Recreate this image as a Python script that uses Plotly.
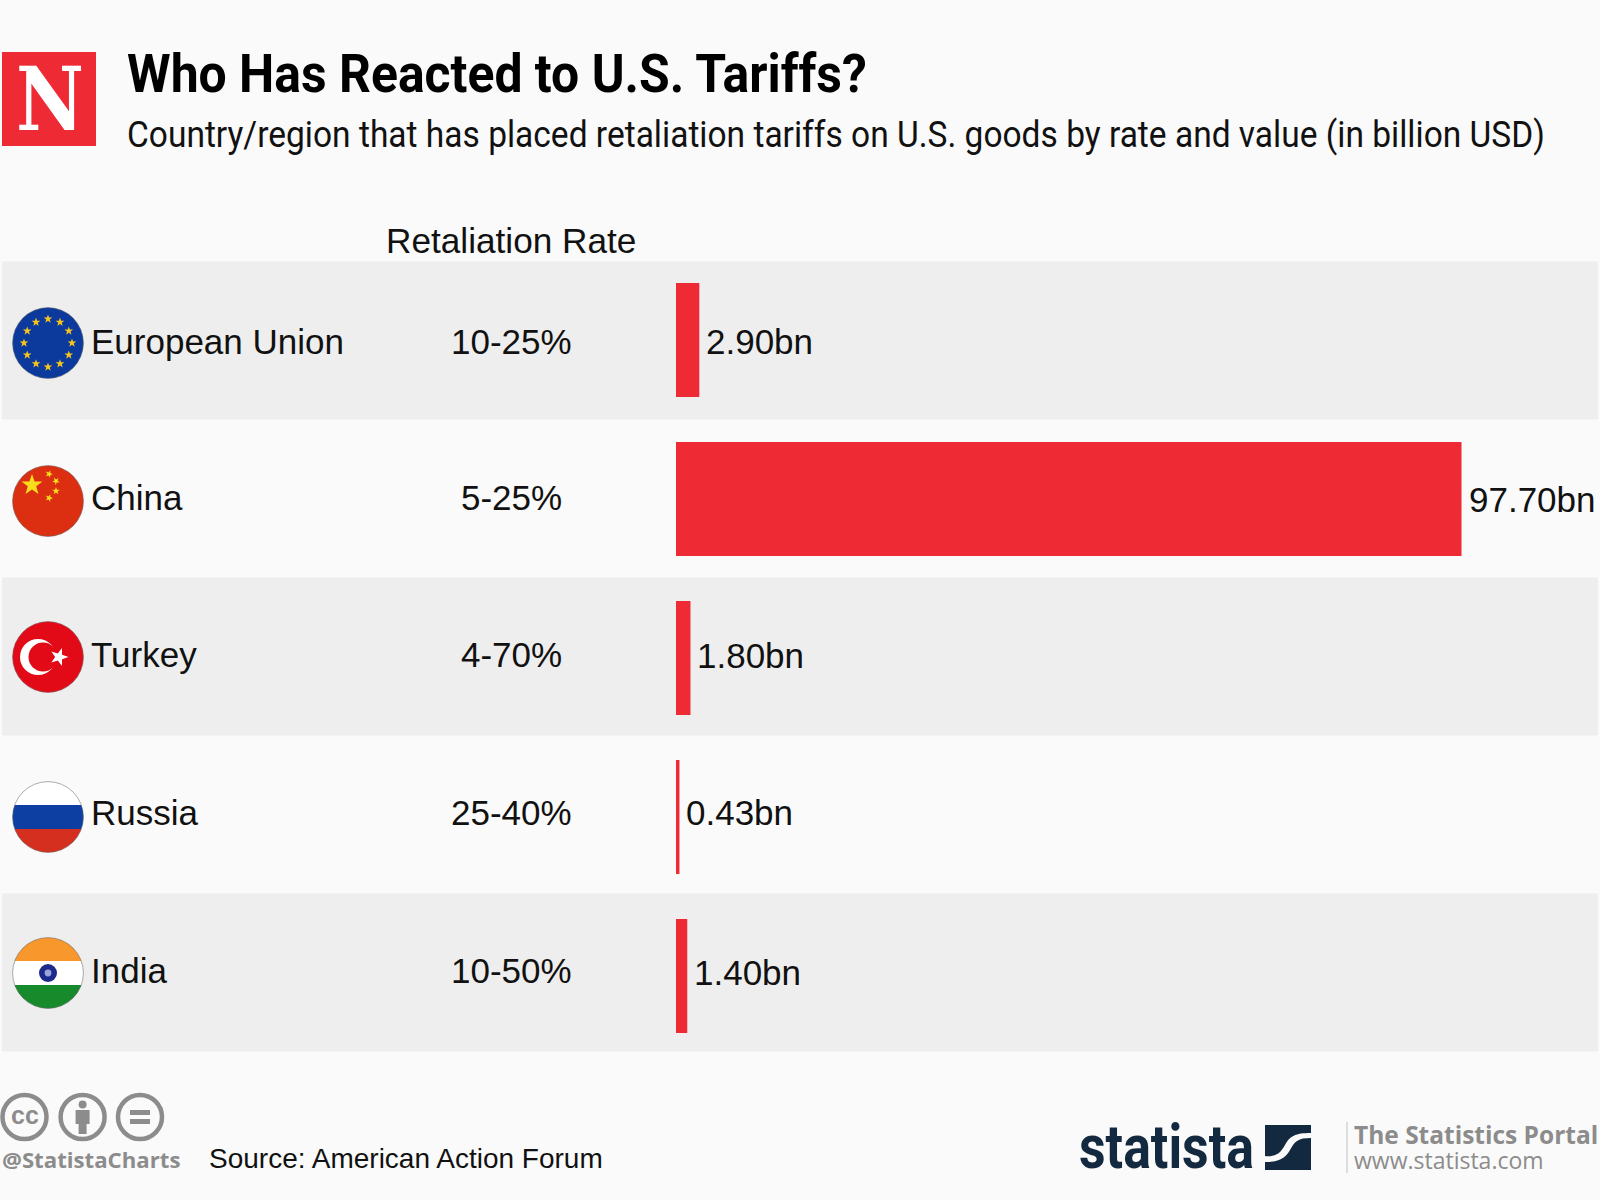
import base64
import json
import math
import plotly.graph_objects as go

# ---- data ----
categories = ["European Union", "China", "Turkey", "Russia", "India"]
rates = ["10-25%", "5-25%", "4-70%", "25-40%", "10-50%"]
values = [2.90, 97.70, 1.80, 0.43, 1.40]
value_labels = ["2.90bn", "97.70bn", "1.80bn", "0.43bn", "1.40bn"]

title = "Who Has Reacted to U.S. Tariffs?"
subtitle = "Country/region that has placed retaliation tariffs on U.S. goods by rate and value (in billion USD)"
rate_header = "Retaliation Rate"
source = "Source: American Action Forum"
brand = "statista"

W, H = 1600, 1200
BG, BAND, RED = "#fafafa", "#eeeeee", "#ee2a35"
INK, GREY, NAVY = "#111111", "#8c8c8c", "#12293f"
SANS = "Liberation Sans"
COND = "Roboto"

PX0, PX_PER = 676.0, 8.04            # value axis
BAR_C0, BAR_STEP = 340.0, 159.0      # bar rows
ROW_C0, ROW_STEP = 340.5, 158.0      # bands and labels
rows = list(range(len(categories)))
label_nudge = [-1, 1, 2, 2, 2]
value_nudge = [-1, -1, 1, 2, 0]

# condensed face is not installed: these texts are narrowed to their measured widths
fit_widths = {title: 740, subtitle: 1418, brand: 175, "N": 68}


def px(x):
    return x / W


def py(y):
    return 1 - y / H


def star(cx, cy, r, rot=0.0):
    pts = []
    for k in range(10):
        rr = r if k % 2 == 0 else r * 0.4
        a = math.radians(-90 + 36 * k + rot)
        pts.append(f"{cx + rr * math.cos(a):.2f},{cy + rr * math.sin(a):.2f}")
    return f'<polygon points="{" ".join(pts)}"/>'


def svg(body):
    s = ('<svg xmlns="http://www.w3.org/2000/svg" width="288" height="288" viewBox="0 0 72 72">'
         '<defs><clipPath id="c"><circle cx="36" cy="36" r="35.5"/></clipPath></defs>'
         f'<g clip-path="url(#c)">{body}</g>'
         '<circle cx="36" cy="36" r="35.4" fill="none" stroke="#6a6a6a" stroke-opacity="0.55" stroke-width="1"/></svg>')
    return "data:image/svg+xml;base64," + base64.b64encode(s.encode()).decode()


eu_stars = "".join(
    star(36 + 24 * math.cos(math.radians(30 * k)), 36 + 24 * math.sin(math.radians(30 * k)), 4.6)
    for k in range(12))
flags = [
    f'<rect width="72" height="72" fill="#0b3a9c"/><g fill="#f4c41f">{eu_stars}</g>',
    '<rect width="72" height="72" fill="#dc2f12"/><g fill="#f9dc1c">'
    + star(20, 20, 11) + star(37, 9, 4, 20) + star(44, 16, 4, 40)
    + star(44, 26, 4, 0) + star(37, 33, 4, 20) + "</g>",
    '<rect width="72" height="72" fill="#e30a17"/><circle cx="26" cy="36" r="18" fill="#fff"/>'
    '<circle cx="31" cy="36" r="14.5" fill="#e30a17"/><g fill="#fff">' + star(47, 36, 9.5, 18) + "</g>",
    '<rect width="72" height="24" fill="#ffffff"/><rect y="24" width="72" height="24" fill="#0d3fa3"/>'
    '<rect y="48" width="72" height="24" fill="#d5301f"/>',
    '<rect width="72" height="24" fill="#f7972c"/><rect y="24" width="72" height="24" fill="#ffffff"/>'
    '<rect y="48" width="72" height="24" fill="#178a2c"/><circle cx="36" cy="36" r="9" fill="#1c2a8c"/>'
    '<circle cx="36" cy="36" r="3.4" fill="#9aa4dc"/>',
]
flag_centres = [343, 501, 657, 817, 973]

swoosh_svg = (
    '<svg xmlns="http://www.w3.org/2000/svg" width="184" height="180" viewBox="0 0 46 45">'
    f'<rect width="46" height="45" fill="{NAVY}"/>'
    f'<path d="M0 31 C10 32 15 29 20 20 C25 11 30 8 46 8 L46 13 C33 13 30 16 25 25 '
    f'C20 34 13 37 0 37 Z" fill="{BG}"/></svg>'
)
swoosh = "data:image/svg+xml;base64," + base64.b64encode(swoosh_svg.encode()).decode()

images = [
    dict(source=svg(f), xref="paper", yref="paper", x=px(12), y=py(c - 36),
         sizex=72 / W, sizey=72 / H, xanchor="left", yanchor="top", sizing="stretch", layer="above")
    for f, c in zip(flags, flag_centres)
]
images.append(dict(source=swoosh, xref="paper", yref="paper", x=px(1265), y=py(1125),
                   sizex=46 / W, sizey=45 / H, xanchor="left", yanchor="top",
                   sizing="stretch", layer="above"))

fig = go.Figure()
fig.add_trace(go.Bar(
    x=values, y=rows, orientation="h", width=114 / BAR_STEP,
    marker=dict(color=RED, line=dict(width=0)), hoverinfo="skip", showlegend=False,
    xaxis="x", yaxis="y",
))
# transparent anchors: they keep the row axis alive for the bands and labels
fig.add_trace(go.Scatter(
    x=values, y=rows, mode="markers", marker=dict(opacity=0, size=1),
    hoverinfo="skip", showlegend=False, xaxis="x", yaxis="y2",
))


def note(text, x, y, size, color=INK, family=SANS, anchor="left", yref="paper", bold=False, yshift=0):
    return dict(text=f"<b>{text}</b>" if bold else text, x=px(x), y=y, xref="paper", yref=yref,
                xanchor=anchor, yanchor="middle", showarrow=False, align=anchor, yshift=yshift,
                font=dict(family=family, size=size, color=color))


annotations = [
    note("N", 14, py(99), 88, "#ffffff", "DejaVu Serif", bold=True),
    note(title, 125, py(74), 54, "#000000", COND, bold=True),
    note(subtitle, 125, py(134), 37, "#111111", COND),
    note(rate_header, 511, py(241), 35.2, anchor="center"),
    note("cc", 24.5, py(1115), 25, GREY, SANS, "center", bold=True),
    note("@StatistaCharts", 0, py(1159), 22.2, GREY, "Open Sans", bold=True),
    note(source, 207, py(1158), 28),
    note(brand, 1077, py(1146), 62, NAVY, COND, bold=True),
    note("The Statistics Portal", 1352, py(1134), 24.5, GREY, "Open Sans", bold=True),
    note("www.statista.com", 1352, py(1160), 23, GREY, "Open Sans"),
]
for i, (cat, rate) in enumerate(zip(categories, rates)):
    annotations.append(note(cat, 89, i, 35, yref="y2", yshift=label_nudge[i]))
    annotations.append(note(rate, 511, i, 35, anchor="center", yref="y2", yshift=label_nudge[i]))
    annotations.append(dict(text=value_labels[i], x=values[i], y=i, xref="x", yref="y2",
                            xanchor="left", yanchor="middle", showarrow=False, xshift=5,
                            yshift=value_nudge[i], font=dict(family=SANS, size=35, color=INK)))

shapes = [
    dict(type="rect", xref="paper", yref="y2", x0=px(2), x1=px(1598), y0=i - 0.5, y1=i + 0.5,
         fillcolor=BAND, line_width=0, layer="below")
    for i in rows[::2]
]
shapes.append(dict(type="rect", xref="paper", yref="paper", x0=px(2), x1=px(96), y0=py(146), y1=py(52),
                   fillcolor=RED, line_width=0, layer="below"))
for cx in (24.5, 82.6, 140):
    shapes.append(dict(type="circle", xref="paper", yref="paper", x0=px(cx - 22), x1=px(cx + 22),
                       y0=py(1117 + 22), y1=py(1117 - 22), fillcolor="rgba(0,0,0,0)",
                       line=dict(color=GREY, width=4.5)))
# person glyph
shapes.append(dict(type="circle", xref="paper", yref="paper", x0=px(78.6), x1=px(86.6), y0=py(1108.5), y1=py(1100.5),
                   fillcolor=GREY, line_width=0))
shapes.append(dict(type="rect", xref="paper", yref="paper", x0=px(75.6), x1=px(89.6), y0=py(1124), y1=py(1110),
                   fillcolor=GREY, line_width=0))
shapes.append(dict(type="rect", xref="paper", yref="paper", x0=px(78.6), x1=px(86.6), y0=py(1134), y1=py(1124),
                   fillcolor=GREY, line_width=0))
# equals glyph
for y0, y1 in ((1110, 1115), (1119, 1124)):
    shapes.append(dict(type="rect", xref="paper", yref="paper", x0=px(130), x1=px(150), y0=py(y1), y1=py(y0),
                       fillcolor=GREY, line_width=0))
# divider in the footer
shapes.append(dict(type="line", xref="paper", yref="paper", x0=px(1347), x1=px(1347), y0=py(1173), y1=py(1122),
                   line=dict(color="#dddddd", width=2)))

hidden = dict(visible=False, fixedrange=True)
fig.update_layout(
    width=W, height=H, autosize=False, margin=dict(l=0, r=0, t=0, b=0),
    paper_bgcolor=BG, plot_bgcolor="rgba(0,0,0,0)", showlegend=False,
    xaxis=dict(range=[-PX0 / PX_PER, (W - PX0) / PX_PER], domain=[0, 1], **hidden),
    yaxis=dict(range=[(H - BAR_C0) / BAR_STEP, -BAR_C0 / BAR_STEP], domain=[0, 1], **hidden),
    yaxis2=dict(range=[(H - ROW_C0) / ROW_STEP, -ROW_C0 / ROW_STEP], overlaying="y", **hidden),
    annotations=annotations, shapes=shapes, images=images,
)
post = """
document.body.style.margin = '0';
var fit = %s;
document.querySelectorAll('.annotation-text').forEach(function (el) {
  var w = fit[el.textContent];
  if (!w) return;
  var b = el.getBBox();
  var cur = el.getAttribute('transform') || '';
  el.setAttribute('transform', cur + ' translate(' + b.x + ' 0) scale(' + (w / b.width) + ' 1) translate(' + (-b.x) + ' 0)');
});
""" % json.dumps(fit_widths)
fig.write_html("out.html", post_script=post, config={"displayModeBar": False})
